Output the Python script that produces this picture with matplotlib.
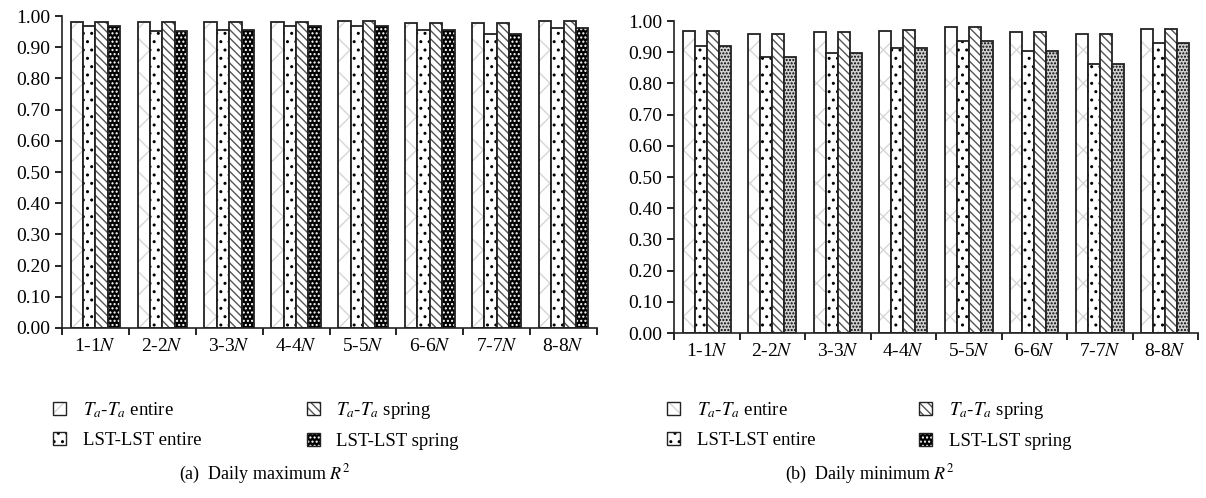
import matplotlib
matplotlib.use('Agg')
import matplotlib.pyplot as plt
import matplotlib.patches as mpatches
from matplotlib.legend_handler import HandlerTuple
import numpy as np

groups = ['1-1$N$', '2-2$N$', '3-3$N$', '4-4$N$', '5-5$N$', '6-6$N$', '7-7$N$', '8-8$N$']
series_names = ['$T_a$-$T_a$ entire', 'LST-LST entire', '$T_a$-$T_a$ spring', 'LST-LST spring']

# daily maximum R^2
max_ta_entire = [0.980, 0.982, 0.980, 0.982, 0.984, 0.978, 0.978, 0.984]
max_lst_entire = [0.967, 0.951, 0.956, 0.968, 0.967, 0.955, 0.942, 0.960]
max_ta_spring = [0.980, 0.982, 0.980, 0.982, 0.984, 0.978, 0.978, 0.984]
max_lst_spring = [0.967, 0.951, 0.956, 0.968, 0.967, 0.955, 0.942, 0.960]

# daily minimum R^2
min_ta_entire = [0.969, 0.959, 0.965, 0.968, 0.982, 0.965, 0.957, 0.974]
min_lst_entire = [0.919, 0.884, 0.898, 0.913, 0.937, 0.905, 0.861, 0.930]
min_ta_spring = [0.969, 0.959, 0.965, 0.970, 0.982, 0.965, 0.957, 0.974]
min_lst_spring = [0.919, 0.884, 0.898, 0.913, 0.937, 0.905, 0.861, 0.930]

plt.rcParams['font.family'] = ['Liberation Serif', 'DejaVu Serif']
plt.rcParams['mathtext.fontset'] = 'stix'
plt.rcParams['hatch.linewidth'] = 1.0

# (face colour, hatch, hatch colour) per series
styles_max = [('white', 'x', '#d6d6d6'), ('white', '..', 'black'),
              ('white', '\\\\\\\\', '#555555'), ('black', '....', 'white')]
styles_min = [('white', 'x', '#d6d6d6'), ('white', '..', 'black'),
              ('white', '\\\\\\\\', '#555555'), ('#d0d0d0', '.....', 'black')]
edge = '#222222'
fs = 14


def draw_panel(ax, data, styles):
    x = np.arange(len(groups))
    w = 0.185
    for k, vals in enumerate(data):
        pos = x + (k - 1.5) * w
        fc, hatch, hc = styles[k]
        ax.bar(pos, vals, w, color=fc, edgecolor=hc, linewidth=0, hatch=hatch)
        ax.bar(pos, vals, w, fill=False, edgecolor=edge, linewidth=1.3)
    ax.set_xlim(-0.5, len(groups) - 0.5)
    ax.set_ylim(0, 1.0)
    ax.set_yticks(np.arange(0, 1.01, 0.1))
    ax.set_yticklabels(['%.2f' % v for v in np.arange(0, 1.01, 0.1)])
    ax.set_xticks(np.arange(-0.5, len(groups), 1.0))
    ax.set_xticklabels([])
    ax.set_xticks(x, minor=True)
    ax.set_xticklabels(groups, minor=True)
    ax.tick_params(axis='x', which='minor', length=0, pad=7, labelsize=fs)
    ax.tick_params(axis='both', which='major', length=5, width=1.2, labelsize=fs)
    for s in ['top', 'right']:
        ax.spines[s].set_visible(False)
    for s in ['left', 'bottom']:
        ax.spines[s].set_linewidth(1.2)
        ax.spines[s].set_color('#222222')


def make_legend(fig, ax, x0, y0, colspace, styles):
    handles = []
    for fc, hatch, hc in styles:
        h1 = mpatches.Patch(facecolor=fc, edgecolor=hc, linewidth=0, hatch=hatch)
        h2 = mpatches.Patch(fill=False, edgecolor=edge, linewidth=1.0)
        handles.append((h1, h2))
    ax.legend(handles, series_names, ncol=2, loc='upper left',
              bbox_to_anchor=(x0, y0), bbox_transform=fig.transFigure,
              frameon=False, fontsize=13.5, handlelength=0.7, handleheight=0.7,
              handletextpad=0.9, columnspacing=colspace, borderpad=0, borderaxespad=0,
              labelspacing=0.65, handler_map={tuple: HandlerTuple(ndivide=1)})


fig = plt.figure(figsize=(12.06, 4.98), dpi=100)
ax1 = fig.add_axes([62 / 1206, 170 / 498, 535 / 1206, 312 / 498])
ax2 = fig.add_axes([674 / 1206, 165 / 498, 524 / 1206, 312 / 498])

draw_panel(ax1, [max_ta_entire, max_lst_entire, max_ta_spring, max_lst_spring], styles_max)
draw_panel(ax2, [min_ta_entire, min_lst_entire, min_ta_spring, min_lst_spring], styles_min)

make_legend(fig, ax1, 53 / 1206, 1 - 400 / 498, 5.6, styles_max)
make_legend(fig, ax2, 667 / 1206, 1 - 400 / 498, 5.5, styles_max)

fig.text(265 / 1206, 1 - 474 / 498, '(a)  Daily maximum $R^2$', ha='center', va='center', fontsize=13)
fig.text(870 / 1206, 1 - 474 / 498, '(b)  Daily minimum $R^2$', ha='center', va='center', fontsize=13)

fig.savefig('out.png', dpi=100)
